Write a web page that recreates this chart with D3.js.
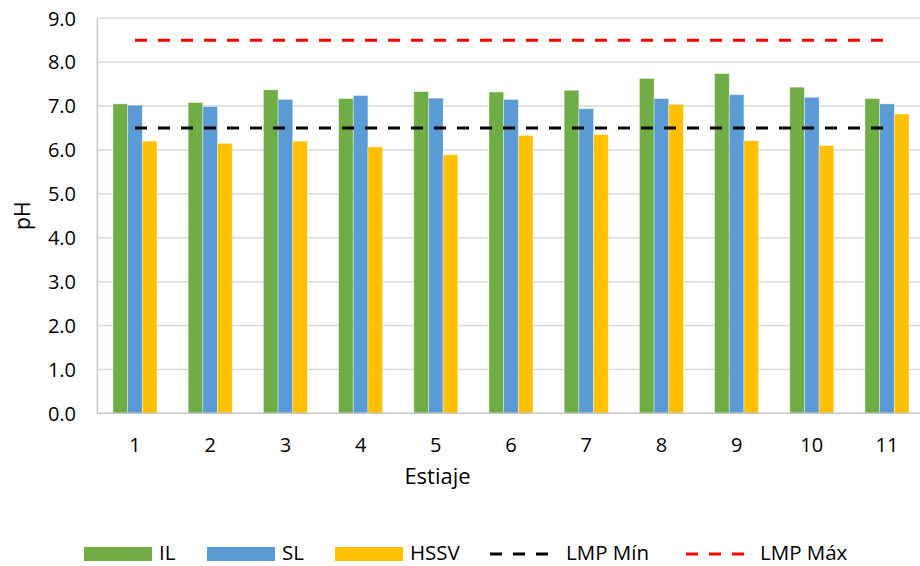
<!DOCTYPE html>
<html>
<head>
<meta charset="utf-8">
<script src="https://cdn.jsdelivr.net/npm/d3@7/dist/d3.min.js"></script>
<style>
  html, body { margin: 0; padding: 0; background: #fff; }
  svg { display: block; font-family: "Open Sans", "DejaVu Sans", sans-serif; }
</style>
</head>
<body>
<svg id="chart" width="920" height="566"></svg>
<script>
const categories = ["1","2","3","4","5","6","7","8","9","10","11"];
const seriesNames = ["IL","SL","HSSV"];
const IL   = [7.05, 7.08, 7.37, 7.17, 7.33, 7.32, 7.36, 7.63, 7.74, 7.43, 7.17];
const SL   = [7.02, 6.99, 7.15, 7.24, 7.18, 7.15, 6.94, 7.17, 7.26, 7.20, 7.05];
const HSSV = [6.20, 6.15, 6.20, 6.07, 5.89, 6.33, 6.35, 7.04, 6.21, 6.10, 6.82];
const LMPMin = [6.5, 6.5, 6.5, 6.5, 6.5, 6.5, 6.5, 6.5, 6.5, 6.5, 6.5];
const LMPMax = [8.5, 8.5, 8.5, 8.5, 8.5, 8.5, 8.5, 8.5, 8.5, 8.5, 8.5];
const yTicks = [0,1,2,3,4,5,6,7,8,9];
const xTitle = "Estiaje";
const yTitle = "pH";

const colors = { IL: "#70AD47", SL: "#5B9BD5", HSSV: "#FFC000", min: "#000000", max: "#FF0000" };
const seriesData = { IL: IL, SL: SL, HSSV: HSSV };

const svg = d3.select("#chart");
const plotL = 97.4, plotR = 924.6, plotT = 18.3, plotB = 413.3;

const x = d3.scaleBand().domain(categories).range([plotL, plotR]);
const y = d3.scaleLinear().domain([0, 9]).range([plotB, plotT]);
const groupW = x.bandwidth() * 0.585;
const xs = d3.scaleBand().domain(seriesNames).range([0, groupW]);

// gridlines
svg.append("g").selectAll("line").data(yTicks.filter(d => d > 0)).join("line")
  .attr("x1", plotL).attr("x2", plotR)
  .attr("y1", d => y(d)).attr("y2", d => y(d))
  .attr("stroke", "#D9D9D9").attr("stroke-width", 1.5);

// bars
const rows = categories.map((c, i) => ({ c, vals: seriesNames.map(s => ({ s, v: seriesData[s][i] })) }));
const g = svg.append("g");
g.selectAll("g").data(rows).join("g")
  .attr("transform", d => `translate(${x(d.c) + (x.bandwidth() - groupW) / 2},0)`)
  .selectAll("rect").data(d => d.vals).join("rect")
  .attr("x", d => xs(d.s)).attr("width", xs.bandwidth())
  .attr("y", d => y(d.v)).attr("height", d => y(0) - y(d.v))
  .attr("fill", d => colors[d.s])
  .attr("stroke", "rgba(255,255,255,0.45)").attr("stroke-width", 0.8);

// axes lines
svg.append("line").attr("x1", plotL).attr("x2", plotL).attr("y1", plotT).attr("y2", plotB)
  .attr("stroke", "#C8C8C8").attr("stroke-width", 1.5);
svg.append("line").attr("x1", plotL).attr("x2", plotR).attr("y1", plotB).attr("y2", plotB)
  .attr("stroke", "#C8C8C8").attr("stroke-width", 1.5);

// lines
const line = d3.line().x((d, i) => x(categories[i]) + x.bandwidth() / 2).y(d => y(d));
svg.append("path").datum(LMPMin).attr("d", line).attr("fill", "none")
  .attr("stroke", colors.min).attr("stroke-width", 3.2).attr("stroke-dasharray", "12,11");
svg.append("path").datum(LMPMax).attr("d", line).attr("fill", "none")
  .attr("stroke", colors.max).attr("stroke-width", 3.2).attr("stroke-dasharray", "12,11");

// y tick labels
svg.append("g").selectAll("text").data(yTicks).join("text")
  .attr("x", 76).attr("y", d => y(d)).attr("dy", "0.36em")
  .attr("text-anchor", "end").attr("font-size", 20).attr("fill", "#000")
  .text(d => d3.format(".1f")(d));

// x tick labels
svg.append("g").selectAll("text").data(categories).join("text")
  .attr("x", d => x(d) + x.bandwidth() / 2).attr("y", 452)
  .attr("text-anchor", "middle").attr("font-size", 20).attr("fill", "#000")
  .text(d => d);

// axis titles
svg.append("text").attr("x", 437.5).attr("y", 484).attr("text-anchor", "middle")
  .attr("font-size", 22).attr("fill", "#000").text(xTitle);
svg.append("text").attr("transform", "translate(30,215.8) rotate(-90)")
  .attr("text-anchor", "middle").attr("font-size", 21).attr("fill", "#000").text(yTitle);

// legend
const legendItems = [
  { name: "IL", type: "rect", color: colors.IL, x: 84 },
  { name: "SL", type: "rect", color: colors.SL, x: 207 },
  { name: "HSSV", type: "rect", color: colors.HSSV, x: 335 },
  { name: "LMP Mín", type: "line", color: colors.min, x: 490 },
  { name: "LMP Máx", type: "line", color: colors.max, x: 686 }
];
const lg = svg.append("g").selectAll("g").data(legendItems).join("g")
  .attr("transform", d => `translate(${d.x},0)`);
lg.filter(d => d.type === "rect").append("rect")
  .attr("x", 0).attr("y", 547).attr("width", 68).attr("height", 14).attr("fill", d => d.color);
lg.filter(d => d.type === "line").append("line")
  .attr("x1", 0).attr("x2", 58).attr("y1", 554).attr("y2", 554)
  .attr("stroke", d => d.color).attr("stroke-width", 3.2).attr("stroke-dasharray", "12,11");
lg.append("text")
  .attr("x", d => d.type === "rect" ? 75 : (d.name === "LMP Mín" ? 76 : 74))
  .attr("y", 560).attr("font-size", 20.5).attr("fill", "#000").text(d => d.name);
</script>
</body>
</html>
